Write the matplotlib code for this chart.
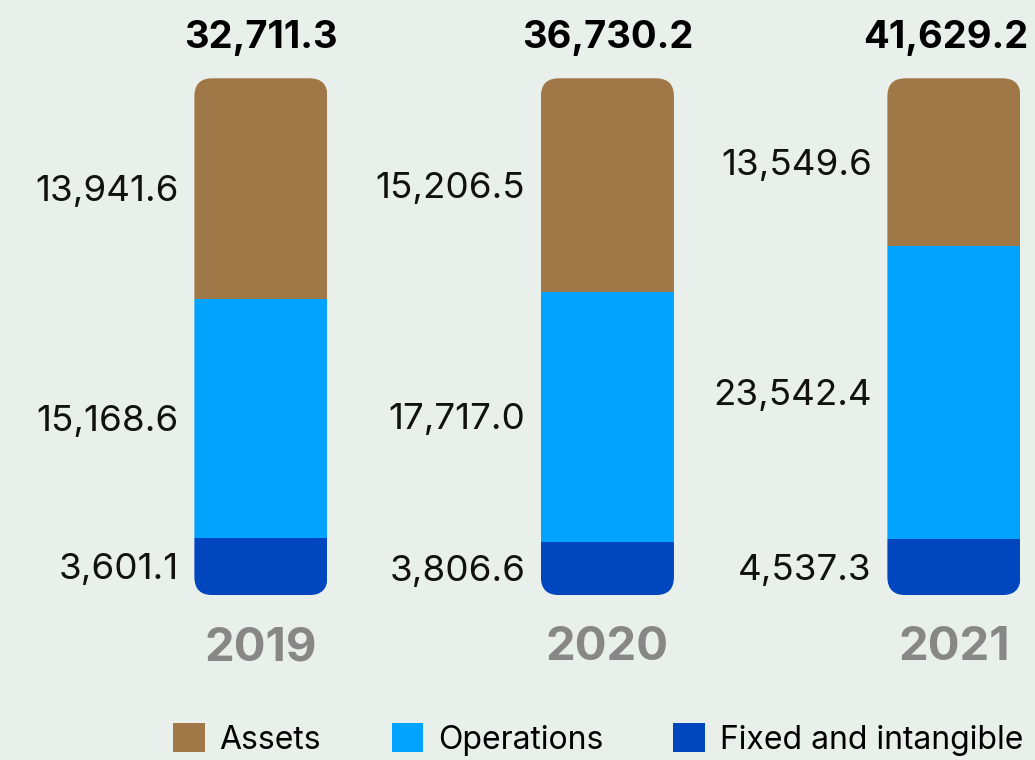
import numpy as np
import matplotlib.pyplot as plt
from matplotlib.patches import FancyBboxPatch, Patch

plt.rcParams['font.family'] = ['Inter', 'DejaVu Sans']

years = ['2019', '2020', '2021']
fixed = np.array([3601.1, 3806.6, 4537.3])
operations = np.array([15168.6, 17717.0, 23542.4])
assets = np.array([13941.6, 15206.5, 13549.6])
totals = np.array([32711.3, 36730.2, 41629.2])
series_names = ['Assets', 'Operations', 'Fixed and intangible']

c_assets = '#a07848'
c_ops = '#00a3ff'
c_fixed = '#0047bf'
bg = '#e9f0ec'

# each bar is shown as shares of its total
p_fixed = fixed / totals * 100
p_ops = operations / totals * 100
p_assets = 100 - p_fixed - p_ops

fig = plt.figure(figsize=(10.35, 7.6), dpi=100, facecolor=bg)
ax = fig.add_axes([0, 0.217, 1, 0.680])
ax.set_facecolor(bg)
ax.set_xlim(-0.753, 2.234)
ax.set_ylim(0, 100)
ax.axis('off')

x = np.arange(len(years))
w = 0.384
b1 = ax.bar(x, p_fixed, w, color=c_fixed, lw=0)
b2 = ax.bar(x, p_ops, w, bottom=p_fixed, color=c_ops, lw=0)
b3 = ax.bar(x, p_assets, w, bottom=p_fixed + p_ops, color=c_assets, lw=0)

# rounded outline for every bar, used as clip path
px_x = ax.transData.transform((1, 0))[0] - ax.transData.transform((0, 0))[0]
px_y = ax.transData.transform((0, 1))[1] - ax.transData.transform((0, 0))[1]
aspect = px_x / px_y
r = 18 / px_x
for i in x:
    clip = FancyBboxPatch((i - w / 2, 0), w, 100,
                          boxstyle=f'round,pad=0,rounding_size={r}',
                          mutation_aspect=aspect, transform=ax.transData)
    for cont in (b1, b2, b3):
        cont[i].set_clip_path(clip)

def fmt(v):
    return f'{v:,.1f}'

lx = x - w / 2 - 0.045
for i in x:
    for vals, pct, bot in ((fixed, p_fixed, 0), (operations, p_ops, p_fixed[i]),
                           (assets, p_assets, p_fixed[i] + p_ops[i])):
        ax.text(lx[i], bot + pct[i] / 2 - 0.6, fmt(vals[i]), ha='right', va='center',
                fontsize=26.5, color='#111111', clip_on=False)
    ax.text(i - (0.025 if i == 2 else 0), 107.7, fmt(totals[i]), ha='center', va='center',
            fontsize=27.5, fontweight='bold', color='#000000', clip_on=False)
    ax.text(i, -10.3, years[i], ha='center', va='center',
            fontsize=34, fontweight='bold', color='#878787', clip_on=False)

handles = [Patch(facecolor=c, edgecolor='none') for c in (c_assets, c_ops, c_fixed)]
fig.legend(handles, series_names, loc='center', bbox_to_anchor=(0.578, 0.027),
           ncol=3, frameon=False, fontsize=23, handlelength=1.0, handleheight=1.0,
           handletextpad=0.45, columnspacing=2.2, borderaxespad=0)

fig.savefig('out.png', dpi=100, facecolor=bg)
